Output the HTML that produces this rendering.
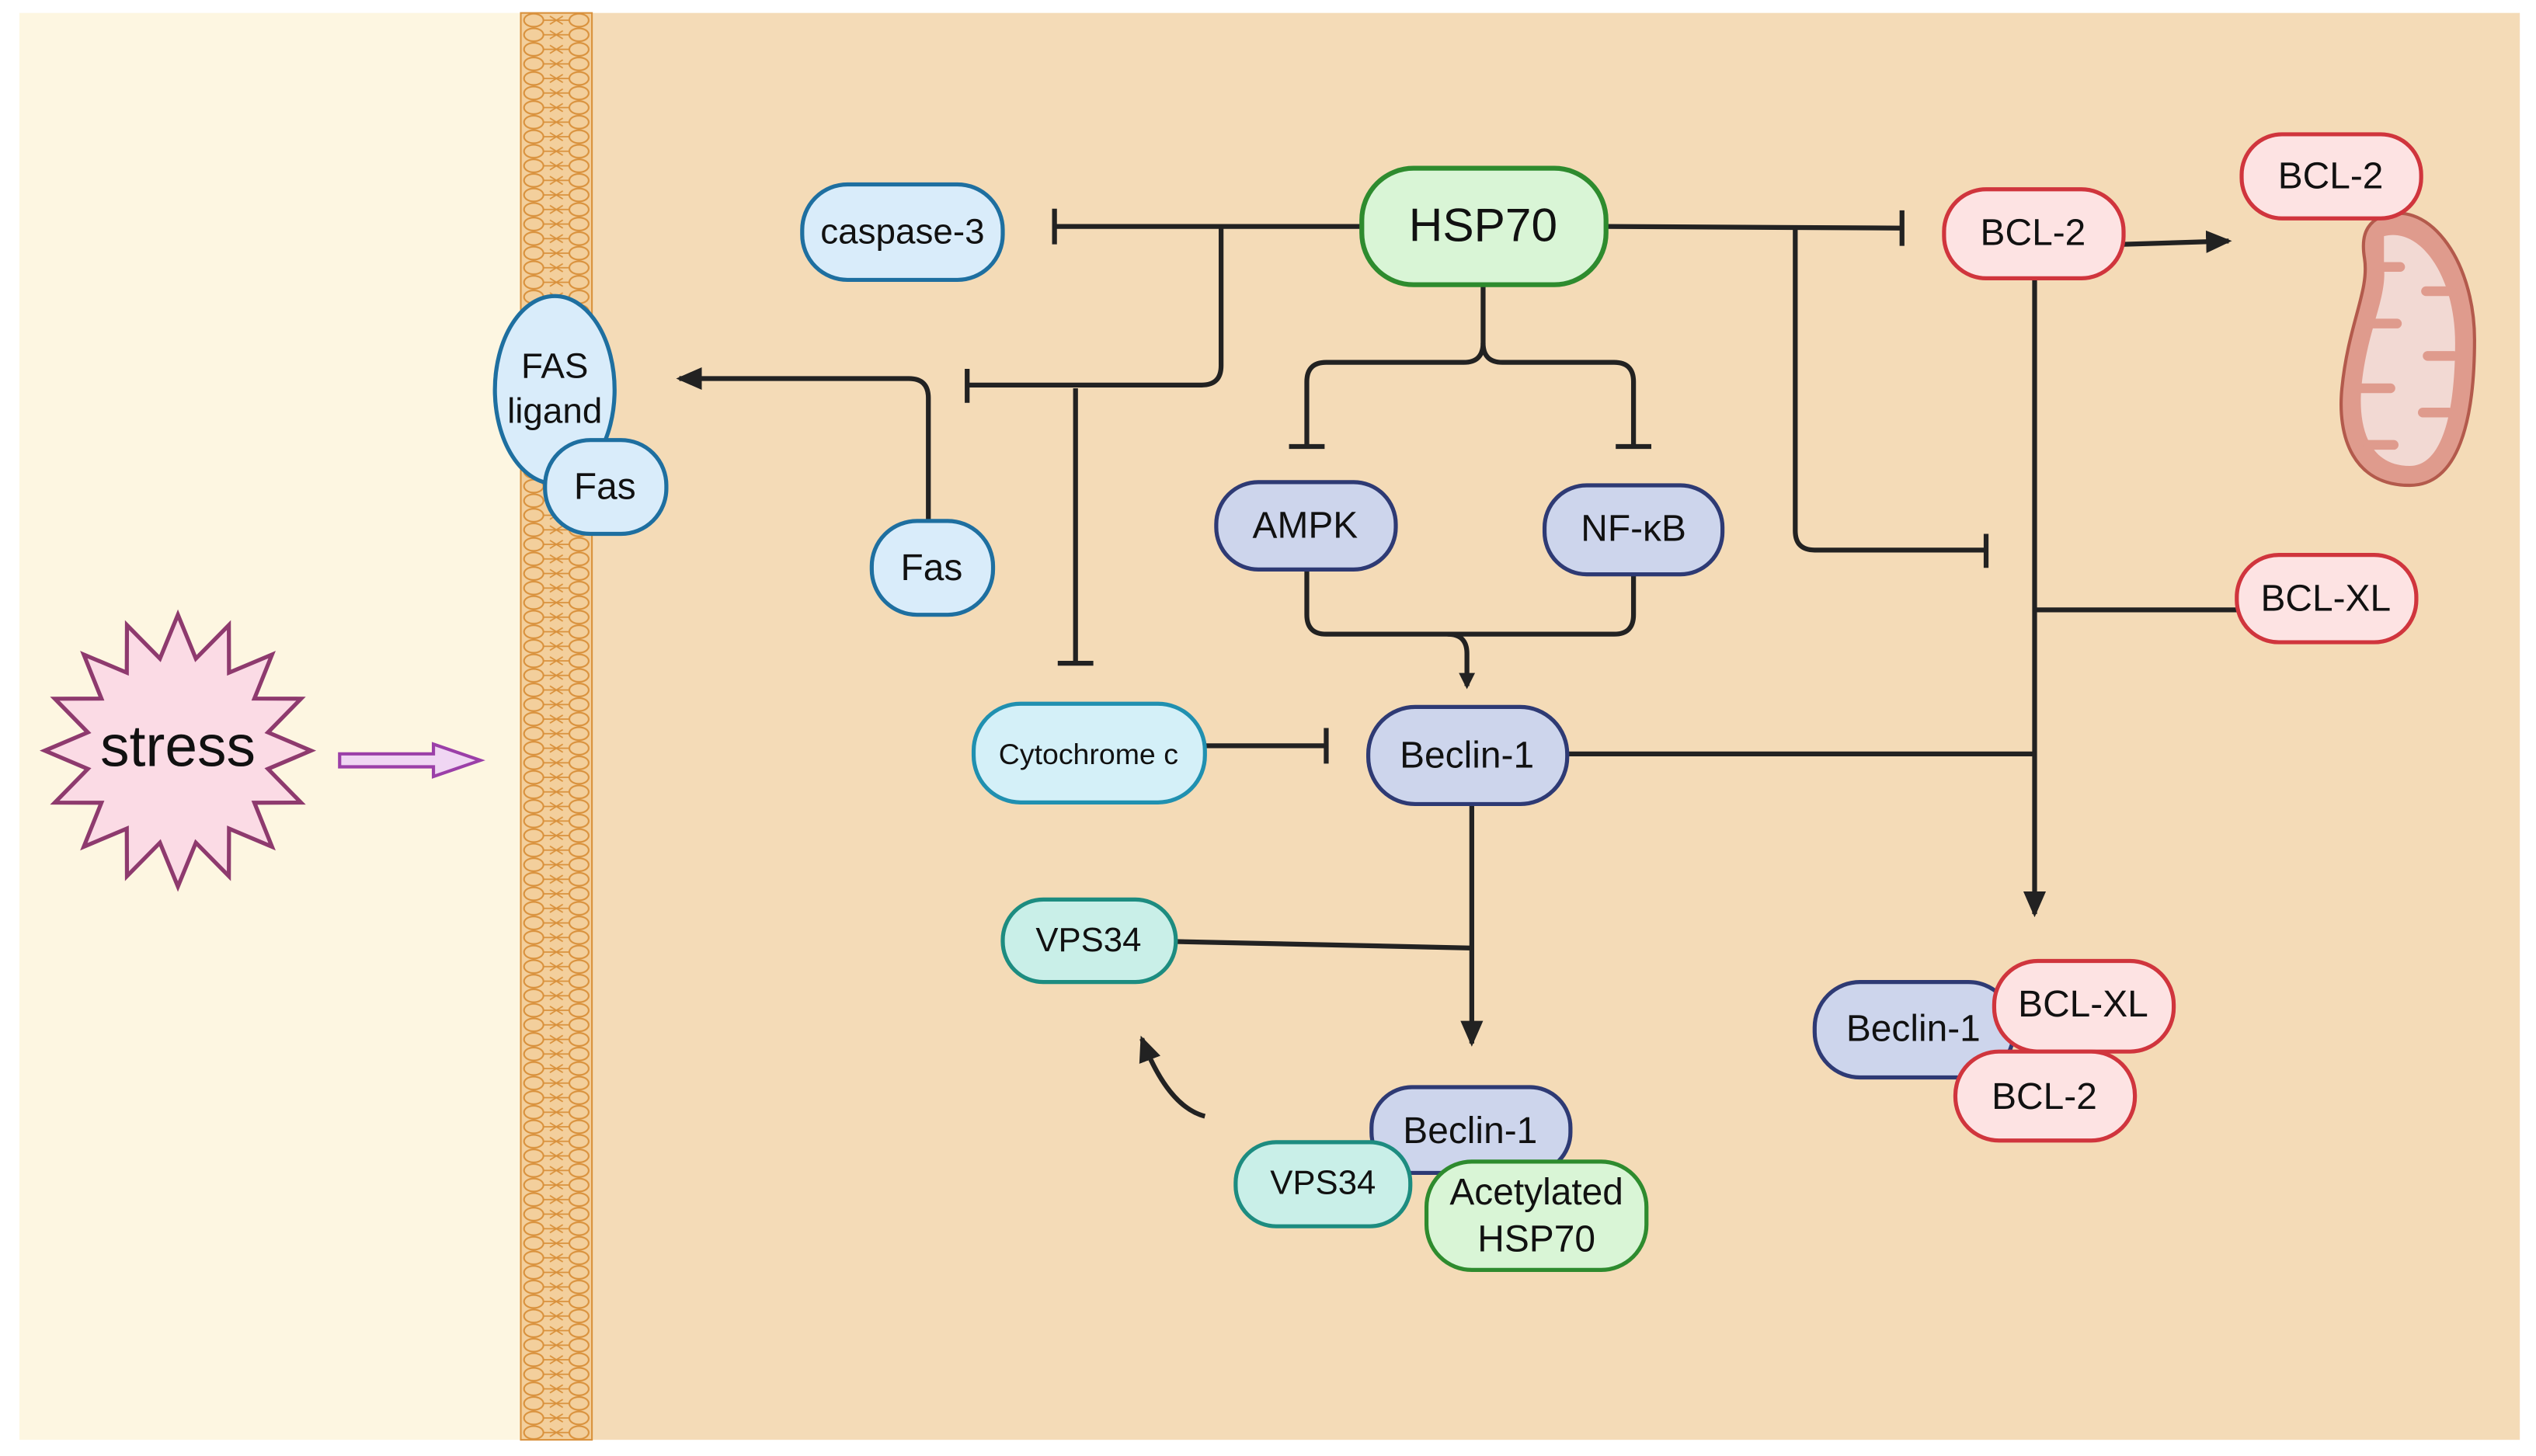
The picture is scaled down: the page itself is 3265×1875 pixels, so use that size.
<!DOCTYPE html>
<html><head><meta charset="utf-8"><style>
html,body{margin:0;padding:0;background:#fff}
svg{display:block}
text{font-family:"Liberation Sans",sans-serif;fill:#111;text-anchor:middle;dominant-baseline:central}
</style></head><body>
<svg width="3265" height="1875" viewBox="0 0 1568 900" preserveAspectRatio="none" xmlns="http://www.w3.org/2000/svg">
<defs>
<pattern id="mem" width="44" height="9" patternUnits="userSpaceOnUse" x="322" y="8">
<rect width="44" height="9" fill="#f3cf9c"/>
<ellipse cx="8" cy="4.5" rx="6" ry="4" fill="none" stroke="#d9913c" stroke-width="1"/>
<ellipse cx="36" cy="4.5" rx="6" ry="4" fill="none" stroke="#d9913c" stroke-width="1"/>
<path d="M14 4.5 L30 4.5 M18 2 L26 7 M18 7 L26 2" stroke="#d9913c" stroke-width="0.8"/>
</pattern>
<marker id="ar" markerWidth="10" markerHeight="10" refX="8" refY="5" orient="auto" markerUnits="userSpaceOnUse"><path d="M0,0 L10,5 L0,10 z" fill="#222"/></marker>
<marker id="arL" markerWidth="16" markerHeight="16" refX="14" refY="8" orient="auto" markerUnits="userSpaceOnUse"><path d="M0,1 L16,8 L0,15 z" fill="#222"/></marker>
</defs>
<rect x="0" y="0" width="1568" height="900" fill="#fff"/>
<rect x="12" y="8" width="312" height="882" fill="#fdf6e1"/>
<rect x="364" y="8" width="1194" height="882" fill="#f4dbb7"/>
<rect x="322" y="8" width="44" height="882" fill="url(#mem)" stroke="#d9913c" stroke-width="1"/>

<polygon id="star" fill="#fbdbe5" stroke="#8e3a6e" stroke-width="2.5" points=""/>
<text x="110" y="461" font-size="36">stress</text>
<path d="M210 466 L268 466 L268 460 L297 470 L268 480 L268 474 L210 474 Z" fill="#f0d6f3" stroke="#9b3fa8" stroke-width="2"/>

<g fill="none" stroke="#222" stroke-width="3" stroke-linecap="butt">
<path d="M842 140 L652 140"/><path d="M652 129 L652 151"/>
<path d="M755 140 L755 226 Q755 238 743 238 L598 238"/><path d="M598 228 L598 249"/>
<path d="M665 240 L665 410"/><path d="M654 410 L676 410"/>
<path d="M574 322 L574 246 Q574 234 562 234 L420 234" marker-end="url(#arL)"/>
<path d="M917 176 L917 212 Q917 224 905 224 L820 224 Q808 224 808 236 L808 275"/>
<path d="M917 212 Q917 224 929 224 L998 224 Q1010 224 1010 236 L1010 275"/>
<path d="M797 276 L819 276"/><path d="M999 276 L1021 276"/>
<path d="M808 352 L808 380 Q808 392 820 392 L998 392 Q1010 392 1010 380 L1010 355"/>
<path d="M895 392 Q907 392 907 404 L907 424" marker-end="url(#ar)"/>
<path d="M993 140 L1176 141"/><path d="M1176 130 L1176 152"/>
<path d="M1110 141 L1110 328 Q1110 340 1122 340 L1228 340"/><path d="M1228 330 L1228 351"/>
<path d="M1313 151 L1378 149" marker-end="url(#arL)"/>
<path d="M1258 172 L1258 565" marker-end="url(#arL)"/>
<path d="M1383 377 L1258 377"/>
<path d="M969 466 L1258 466"/>
<path d="M745 461 L820 461"/><path d="M820 450 L820 472"/>
<path d="M910 497 L910 645" marker-end="url(#arL)"/>
<path d="M727 582 L910 586"/>
<path d="M745 690 Q722 684 706 642" marker-end="url(#arL)"/>
</g>

<g stroke-width="2.5">
<!-- mitochondrion -->
<path d="M1470 135 C1500 120 1530 160 1530 210 C1530 260 1520 300 1490 300 C1455 300 1445 270 1448 240 C1452 200 1465 180 1462 160 C1460 148 1462 140 1470 135 Z" fill="#df9b8d" stroke="#b35a4c" stroke-width="2"/>
<path d="M1474 146 C1496 140 1518 170 1518 212 C1518 255 1510 288 1490 288 C1465 288 1458 265 1460 240 C1463 205 1476 185 1474 165 Z" fill="#f2d9d3"/>
<path d="M1470 165 h14 M1516 180 h-16 M1466 200 h16 M1517 220 h-16 M1460 240 h18 M1514 255 h-16 M1464 275 h16" stroke="#df9b8d" stroke-width="6" stroke-linecap="round" fill="none"/>
<rect x="496" y="114" width="124" height="59" rx="28" fill="#d9ecfa" stroke="#1e6fa0"/>
<rect x="842" y="104" width="151" height="72" rx="32" fill="#d9f5d6" stroke="#2e8b2e" stroke-width="3"/>
<rect x="1202" y="117" width="111" height="55" rx="26" fill="#fde3e3" stroke="#d0353d"/>
<rect x="1386" y="83" width="111" height="52" rx="25" fill="#fde3e3" stroke="#d0353d"/>
<ellipse cx="343" cy="241" rx="37" ry="58" fill="#d9ecfa" stroke="#1e6fa0"/>
<rect x="337" y="272" width="75" height="58" rx="28" fill="#d9ecfa" stroke="#1e6fa0"/>
<rect x="539" y="322" width="75" height="58" rx="28" fill="#d9ecfa" stroke="#1e6fa0"/>
<rect x="752" y="298" width="111" height="54" rx="26" fill="#cdd5ec" stroke="#2e3a74"/>
<rect x="955" y="300" width="110" height="55" rx="26" fill="#cdd5ec" stroke="#2e3a74"/>
<rect x="1383" y="343" width="111" height="54" rx="26" fill="#fde3e3" stroke="#d0353d"/>
<rect x="602" y="435" width="143" height="61" rx="29" fill="#d4f0f8" stroke="#2090b0"/>
<rect x="846" y="437" width="123" height="60" rx="29" fill="#cdd5ec" stroke="#2e3a74"/>
<rect x="620" y="556" width="107" height="51" rx="25" fill="#c9efe8" stroke="#1d8c80"/>
<rect x="1122" y="607" width="123" height="59" rx="28" fill="#cdd5ec" stroke="#2e3a74"/>
<rect x="1233" y="594" width="111" height="56" rx="27" fill="#fde3e3" stroke="#d0353d"/>
<rect x="1209" y="650" width="111" height="55" rx="27" fill="#fde3e3" stroke="#d0353d"/>
<rect x="848" y="672" width="123" height="53" rx="25" fill="#cdd5ec" stroke="#2e3a74"/>
<rect x="764" y="706" width="108" height="52" rx="25" fill="#c9efe8" stroke="#1d8c80"/>
<rect x="882" y="718" width="136" height="67" rx="28" fill="#d9f5d6" stroke="#2e8b2e"/>
</g>

<text x="558" y="143" font-size="22">caspase-3</text>
<text x="917" y="139" font-size="29">HSP70</text>
<text x="1257" y="144" font-size="23">BCL-2</text>
<text x="1441" y="109" font-size="23">BCL-2</text>
<text x="343" y="226" font-size="22">FAS</text>
<text x="343" y="254" font-size="22">ligand</text>
<text x="374" y="301" font-size="23">Fas</text>
<text x="576" y="351" font-size="23">Fas</text>
<text x="807" y="325" font-size="23">AMPK</text>
<text x="1010" y="327" font-size="23">NF-κB</text>
<text x="1438" y="370" font-size="23">BCL-XL</text>
<text x="673" y="466" font-size="18">Cytochrome c</text>
<text x="907" y="467" font-size="23">Beclin-1</text>
<text x="673" y="581" font-size="21">VPS34</text>
<text x="1183" y="636" font-size="23">Beclin-1</text>
<text x="1288" y="621" font-size="23">BCL-XL</text>
<text x="1264" y="678" font-size="23">BCL-2</text>
<text x="909" y="699" font-size="23">Beclin-1</text>
<text x="818" y="731" font-size="21">VPS34</text>
<text x="950" y="737" font-size="23">Acetylated</text>
<text x="950" y="766" font-size="23">HSP70</text>
</svg>
<script>
var p=[],n=16,cx=110,cy=464;
for(var i=0;i<2*n;i++){var a=Math.PI*i/n-Math.PI/2,r=i%2?58:84;p.push((cx+r*0.98*Math.cos(a)).toFixed(1)+","+(cy+r*Math.sin(a)).toFixed(1));}
document.getElementById("star").setAttribute("points",p.join(" "));
</script>
</body></html>
